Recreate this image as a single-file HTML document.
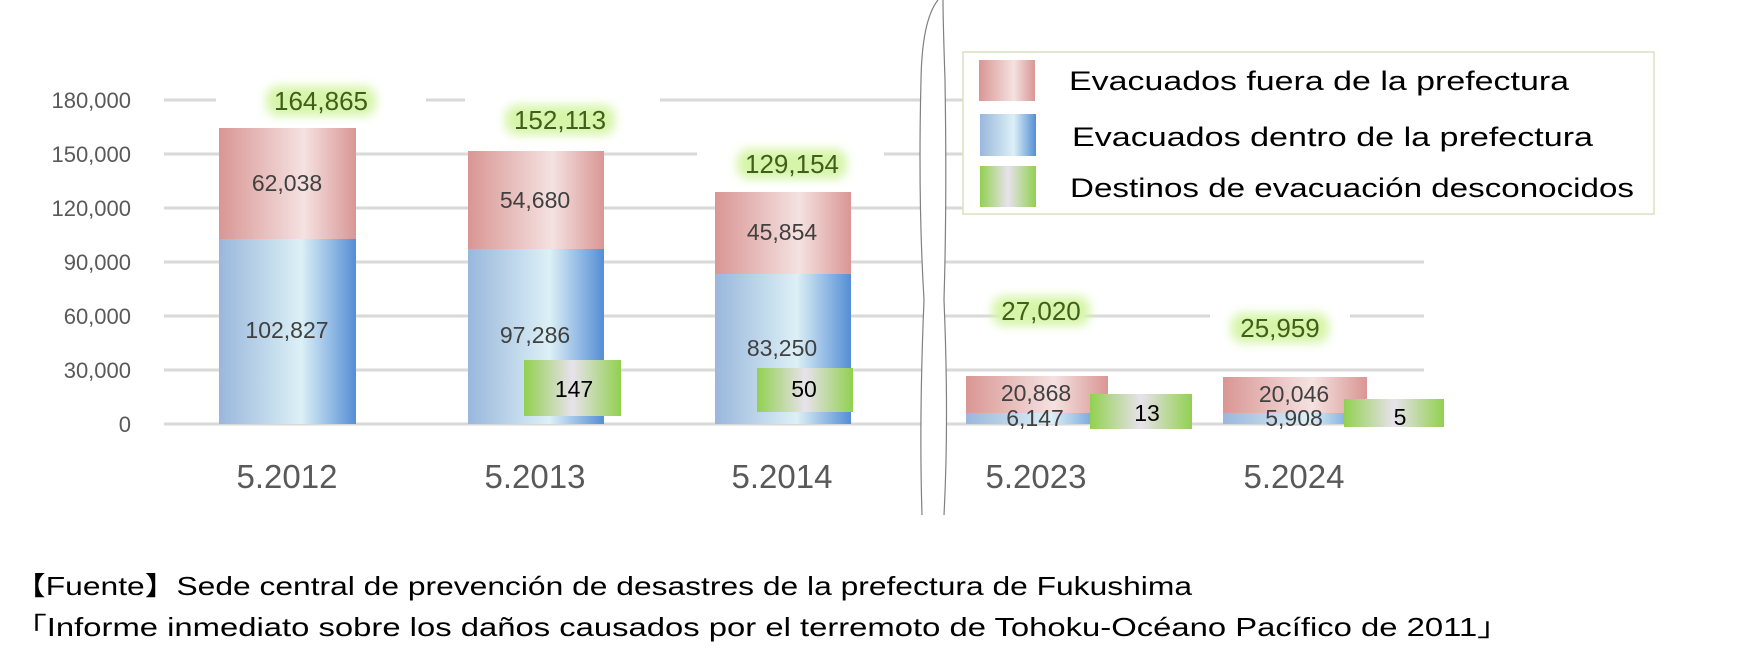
<!DOCTYPE html>
<html><head><meta charset="utf-8"><style>body{margin:0;background:#fff}svg{display:block}</style></head>
<body>
<svg width="1742" height="671" viewBox="0 0 1742 671" xmlns="http://www.w3.org/2000/svg" font-family="Liberation Sans, DejaVu Sans, sans-serif">
<defs>
<linearGradient id="pk" x1="0" x2="1"><stop offset="0" stop-color="#d99694"/><stop offset="0.62" stop-color="#f4e2e1"/><stop offset="1" stop-color="#d99694"/></linearGradient>
<linearGradient id="bl" x1="0" x2="1"><stop offset="0" stop-color="#9ab7dc"/><stop offset="0.6" stop-color="#dcf0f6"/><stop offset="1" stop-color="#558ed5"/></linearGradient>
<linearGradient id="gr" x1="0" x2="1"><stop offset="0" stop-color="#92d050"/><stop offset="0.5" stop-color="#e8e2ec"/><stop offset="1" stop-color="#92d050"/></linearGradient>
<filter id="glow" x="-20%" y="-40%" width="140%" height="180%"><feGaussianBlur stdDeviation="5"/></filter>
</defs>
<g stroke="#d9d9d9" stroke-width="3">
<line x1="164" y1="100" x2="1424" y2="100"/><line x1="164" y1="154" x2="1424" y2="154"/>
<line x1="164" y1="208" x2="1424" y2="208"/><line x1="164" y1="262" x2="1424" y2="262"/>
<line x1="164" y1="316" x2="1424" y2="316"/><line x1="164" y1="370" x2="1424" y2="370"/>
<line x1="164" y1="424" x2="1424" y2="424"/>
</g>
<g font-size="22" fill="#595959" text-anchor="end">
<text x="131" y="108">180,000</text><text x="131" y="162">150,000</text><text x="131" y="216">120,000</text>
<text x="131" y="270">90,000</text><text x="131" y="324">60,000</text><text x="131" y="378">30,000</text><text x="131" y="432">0</text>
</g>
<!-- white gaps behind totals -->
<g fill="#fff">
<rect x="216" y="80" width="210" height="40"/>
<rect x="465" y="95" width="195" height="10"/>
<rect x="697" y="149" width="187" height="10"/>
<rect x="1000" y="300" width="84" height="24"/>
<rect x="1210" y="300" width="140" height="40"/>
</g>
<!-- bars -->
<rect x="219" y="128" width="137" height="111" fill="url(#pk)"/><rect x="219" y="239" width="137" height="185" fill="url(#bl)"/>
<rect x="468" y="151" width="136" height="98" fill="url(#pk)"/><rect x="468" y="249" width="136" height="175" fill="url(#bl)"/>
<rect x="715" y="192" width="136" height="82" fill="url(#pk)"/><rect x="715" y="274" width="136" height="150" fill="url(#bl)"/>
<rect x="966" y="376" width="142" height="37" fill="url(#pk)"/><rect x="966" y="413" width="142" height="11" fill="url(#bl)"/>
<rect x="1223" y="377" width="144" height="36" fill="url(#pk)"/><rect x="1223" y="413" width="144" height="11" fill="url(#bl)"/>
<rect x="524" y="360" width="97" height="56" fill="url(#gr)"/>
<rect x="757" y="368" width="96" height="44" fill="url(#gr)"/>
<rect x="1090" y="394" width="102" height="35" fill="url(#gr)"/>
<rect x="1344" y="399" width="100" height="28" fill="url(#gr)"/>
<g font-size="23" fill="#404040" text-anchor="middle">
<text x="287" y="191">62,038</text><text x="287" y="338">102,827</text>
<text x="535" y="208">54,680</text><text x="535" y="343">97,286</text>
<text x="782" y="240">45,854</text><text x="782" y="356">83,250</text>
<text x="1036" y="401">20,868</text><text x="1035" y="426">6,147</text>
<text x="1294" y="402">20,046</text><text x="1294" y="426">5,908</text>
</g>
<g font-size="23" fill="#000" text-anchor="middle">
<text x="574" y="397">147</text><text x="804" y="397">50</text><text x="1147" y="421">13</text><text x="1400" y="425">5</text>
</g>
<!-- totals with glow -->
<g>
<rect x="266" y="86" width="110" height="30" rx="12" fill="#d6f5a8" filter="url(#glow)"/>
<rect x="505" y="105" width="110" height="30" rx="12" fill="#d6f5a8" filter="url(#glow)"/>
<rect x="737" y="149" width="110" height="30" rx="12" fill="#d6f5a8" filter="url(#glow)"/>
<rect x="992" y="296" width="98" height="30" rx="12" fill="#d6f5a8" filter="url(#glow)"/>
<rect x="1231" y="313" width="98" height="30" rx="12" fill="#d6f5a8" filter="url(#glow)"/>
</g>
<g font-size="26" fill="#3f5f1a" text-anchor="middle">
<text x="321" y="110">164,865</text><text x="560" y="129">152,113</text><text x="792" y="173">129,154</text>
<text x="1041" y="320">27,020</text><text x="1280" y="337">25,959</text>
</g>
<g font-size="33" fill="#595959" text-anchor="middle">
<text x="287" y="488">5.2012</text><text x="535" y="488">5.2013</text><text x="782" y="488">5.2014</text>
<text x="1036" y="488">5.2023</text><text x="1294" y="488">5.2024</text>
</g>
<!-- break -->
<path d="M938 0 Q922 20 921 80 Q918 200 924 300 Q919 420 922 515 L944 515 Q949 420 944 300 Q947 200 945 80 Q943 20 947 0 Z" fill="#fff" stroke="none"/>
<path d="M938 0 Q922 20 921 80 Q918 200 924 300 Q919 420 922 515" fill="none" stroke="#808080" stroke-width="1.2"/>
<path d="M943 0 Q943 20 945 80 Q947 200 944 300 Q949 420 944 515" fill="none" stroke="#808080" stroke-width="1.2"/>
<!-- legend -->
<rect x="963" y="52" width="691" height="162" fill="#fff" stroke="#d7e4bd" stroke-width="1.5"/>
<rect x="979" y="60" width="56" height="41" fill="url(#pk)"/>
<rect x="980" y="114" width="56" height="42" fill="url(#bl)"/>
<rect x="980" y="166" width="56" height="41" fill="url(#gr)"/>
<g font-size="27" fill="#000">
<text x="1069" y="90" textLength="500" lengthAdjust="spacingAndGlyphs">Evacuados fuera de la prefectura</text>
<text x="1072" y="146" textLength="521" lengthAdjust="spacingAndGlyphs">Evacuados dentro de la prefectura</text>
<text x="1070" y="197" textLength="564" lengthAdjust="spacingAndGlyphs">Destinos de evacuación desconocidos</text>
</g>
<g font-size="26" fill="#000">
<text x="14" y="595" textLength="1178" lengthAdjust="spacingAndGlyphs">【Fuente】Sede central de prevención de desastres de la prefectura de Fukushima</text>
<text x="14" y="636" textLength="1496" lengthAdjust="spacingAndGlyphs">「Informe inmediato sobre los daños causados por el terremoto de Tohoku-Océano Pacífico de 2011」</text>
</g>
</svg>
</body></html>
